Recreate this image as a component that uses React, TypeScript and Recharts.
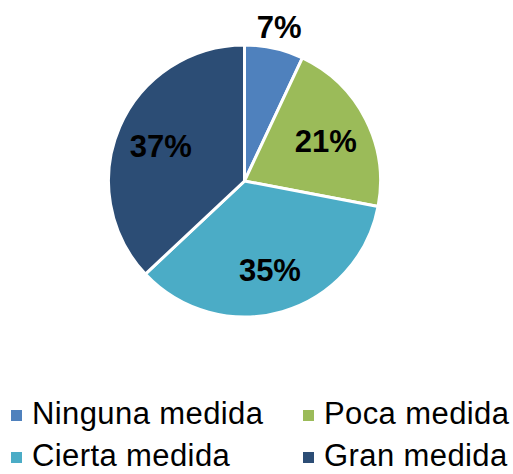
import React from "react";
import { Cell, Legend, Pie, PieChart } from "recharts";

const categories = ["Ninguna medida", "Poca medida", "Cierta medida", "Gran medida"];
const shares = [7, 21, 35, 37];
const colors = ["#4F81BD", "#9BBB59", "#4BACC6", "#2C4D75"];

const data = categories.map((name, i) => ({ name, value: shares[i] }));

const FONT = "'Liberation Sans', Arial, sans-serif";
const RAD = Math.PI / 180;

const renderLabel = (props: any) => {
  const { cx, cy, midAngle, outerRadius, percent } = props;
  // small slice label sits outside, the rest inside
  const r = percent < 0.1 ? outerRadius + 23 : outerRadius * 0.67;
  const x = cx + r * Math.cos(-midAngle * RAD);
  const y = cy + r * Math.sin(-midAngle * RAD) + 2;
  return (
    <text
      x={x}
      y={y}
      fill="#000"
      textAnchor="middle"
      dominantBaseline="central"
      fontFamily={FONT}
      fontWeight="bold"
      fontSize={31}
    >
      {`${Math.round(percent * 100)}%`}
    </text>
  );
};

const renderLegend = () => (
  <div
    style={{
      display: "grid",
      gridTemplateColumns: "292px 210px",
      rowGap: 14,
      fontFamily: FONT,
      fontSize: 31,
      letterSpacing: 0.4,
      lineHeight: "28px",
      color: "#000",
      paddingLeft: 11,
    }}
  >
    {data.map((d, i) => (
      <div key={d.name} style={{ display: "flex", alignItems: "center", whiteSpace: "nowrap", height: 28 }}>
        <span
          style={{
            display: "inline-block",
            width: 11,
            height: 11,
            background: colors[i],
            marginRight: 10,
            marginTop: 2,
          }}
        />
        {d.name}
      </div>
    ))}
  </div>
);

const App = () => {
  return (
    <div style={{ position: "absolute", left: 0, top: 0, width: 513, height: 474, background: "#fff", overflow: "hidden" }}>
      <PieChart width={513} height={474} margin={{ top: 0, right: 0, bottom: 0, left: 0 }}>
        <Pie
          data={data}
          dataKey="value"
          nameKey="name"
          cx={244.5}
          cy={181}
          outerRadius={136}
          startAngle={90}
          endAngle={-270}
          stroke="#fff"
          strokeWidth={3}
          label={renderLabel}
          labelLine={false}
          isAnimationActive={false}
        >
          {data.map((d, i) => (
            <Cell key={d.name} fill={colors[i]} />
          ))}
        </Pie>
        <Legend
          content={renderLegend}
          wrapperStyle={{ left: 0, top: 400, width: 513 }}
        />
      </PieChart>
    </div>
  );
};

export default App;
